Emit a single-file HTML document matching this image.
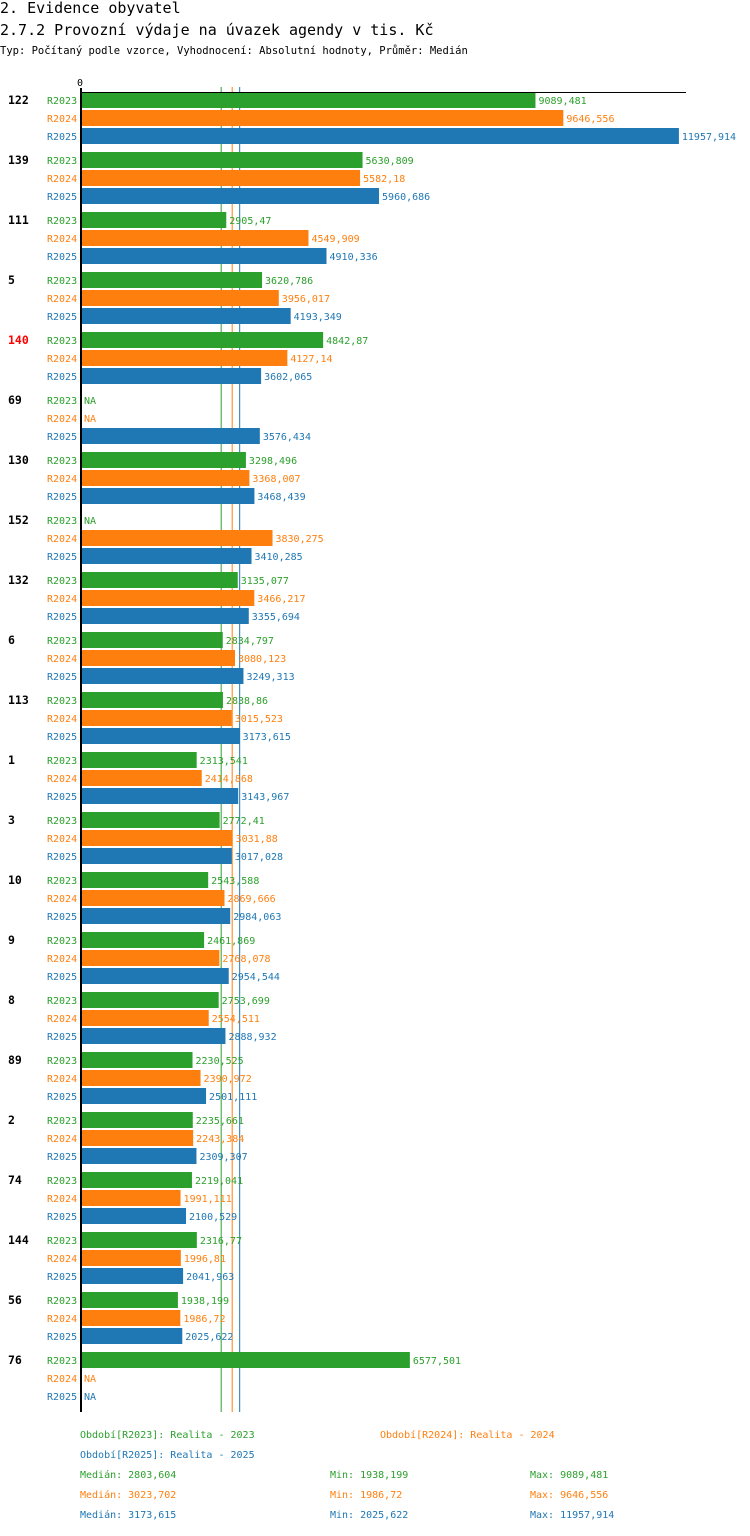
<!DOCTYPE html>
<html><head><meta charset="utf-8"><style>
body{margin:0;background:#fff;width:750px;height:1532px;overflow:hidden;font-family:"DejaVu Sans Mono","Liberation Mono",monospace;}
svg text{font-family:"DejaVu Sans Mono","Liberation Mono",monospace;}
</style></head><body>
<svg id="c" width="750" height="1532" xmlns="http://www.w3.org/2000/svg">
<text x="0" y="13" font-size="15">2. Evidence obyvatel</text>
<text x="0" y="35" font-size="15">2.7.2 Provozní výdaje na úvazek agendy v tis. Kč</text>
<text x="0" y="54" font-size="10.5">Typ: Počítaný podle vzorce, Vyhodnocení: Absolutní hodnoty, Průměr: Medián</text>
<text x="77" y="86" font-size="10">0</text>
<g id="medians"></g>
<g id="bars"></g>
<line x1="80" y1="92.5" x2="686" y2="92.5" stroke="#000" stroke-width="1"/>
<line x1="81" y1="88" x2="81" y2="1412" stroke="#000" stroke-width="2"/>
<g id="legend"></g>
</svg>
<script>
const groups=["122","139","111","5","140","69","130","152","132","6","113","1","3","10","9","8","89","2","74","144","56","76"];
const r2023=[9089.481,5630.809,2905.47,3620.786,4842.87,null,3298.496,null,3135.077,2834.797,2838.86,2313.541,2772.41,2543.588,2461.869,2753.699,2230.525,2235.661,2219.041,2316.77,1938.199,6577.501];
const r2024=[9646.556,5582.18,4549.909,3956.017,4127.14,null,3368.007,3830.275,3466.217,3080.123,3015.523,2414.868,3031.88,2869.666,2768.078,2554.511,2390.972,2243.384,1991.111,1996.81,1986.72,null];
const r2025=[11957.914,5960.686,4910.336,4193.349,3602.065,3576.434,3468.439,3410.285,3355.694,3249.313,3173.615,3143.967,3017.028,2984.063,2954.544,2888.932,2501.111,2309.307,2100.529,2041.963,2025.622,null];
const seriesNames=["R2023","R2024","R2025"];
const medians=[2803.604,3023.702,3173.615];
const mins=["1938,199","1986,72","2025,622"];
const maxs=["9089,481","9646,556","11957,914"];
const colors=["#2ca02c","#ff7f0e","#1f77b4"];
const NS="http://www.w3.org/2000/svg";
const x=v=>81+v*0.05;
const y=(g,s)=>100+g*60+s*18;
const fmt=v=>String(v).replace('.',',');
const gb=document.getElementById('bars');
const gm=document.getElementById('medians');
function mk(tag,attrs,parent,txt){const e=document.createElementNS(NS,tag);for(const k in attrs)e.setAttribute(k,attrs[k]);if(txt!=null)e.textContent=txt;parent.appendChild(e);return e;}
const all=[r2023,r2024,r2025];
medians.forEach((m,i)=>{
  const ln=mk('line',{x1:x(m),x2:x(m),y1:87,y2:1412,stroke:colors[i],'stroke-width':1},gm);
  
  
});
groups.forEach((g,gi)=>{
  const t=mk('text',{x:8,y:y(gi,0)+4,'font-size':11.5,'font-weight':'bold',fill:g==="140"?"#ff0000":"#000"},gb,g);
  
  
  all.forEach((arr,si)=>{
    const cy=y(gi,si);
    const l=mk('text',{x:47,y:cy+4,'font-size':10,fill:colors[si]},gb,seriesNames[si]);
    
    
    const v=arr[gi];
    if(v==null){
      const n=mk('text',{x:84,y:cy+4,'font-size':10,fill:colors[si]},gb,'NA');
      
      
    } else {
      const r=mk('rect',{x:81,y:cy-8,width:x(v)-81,height:16,fill:colors[si]},gb);
      
      
      const vt=mk('text',{x:x(v)+3,y:cy+4,'font-size':10,fill:colors[si]},gb,fmt(v));
      
      
    }
  });
});
const lg=document.getElementById('legend');
const leg=[[80,1438,colors[0],"Období[R2023]: Realita - 2023"],[380,1438,colors[1],"Období[R2024]: Realita - 2024"],[80,1458,colors[2],"Období[R2025]: Realita - 2025"]];
leg.forEach(a=>{const e=mk('text',{x:a[0],y:a[1],'font-size':10,fill:a[2]},lg,a[3]);

});
medians.forEach((m,i)=>{
  const yy=1478+i*20;
  const a=mk('text',{x:80,y:yy,'font-size':10,fill:colors[i]},lg,'Medián: '+fmt(m));
  
  
  const b=mk('text',{x:330,y:yy,'font-size':10,fill:colors[i]},lg,'Min: '+mins[i]);
  
  
  const c=mk('text',{x:530,y:yy,'font-size':10,fill:colors[i]},lg,'Max: '+maxs[i]);
  
  
});
</script>
</body></html>
